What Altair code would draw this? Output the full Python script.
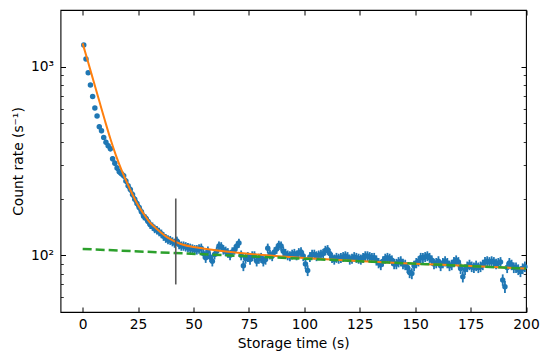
import altair as alt
import pandas as pd

# ---- data ----
rates = [
    1303, 1099, 929, 800, 695, 604, 548, 480, 457, 422,
    398, 381, 367, 325, 308, 290, 277, 271, 264, 248,
    234, 223, 210, 198, 188, 179, 170, 161, 157, 151,
    145, 142, 138, 136, 133, 130, 126, 123, 121, 120,
    118, 116, 119, 114, 112, 112, 111, 110, 109, 108,
    107, 107, 108, 109, 102, 97, 105, 98, 93, 101,
    105, 112, 111, 107, 105, 103, 100, 104, 107, 112,
    116, 100, 88, 96, 98, 95, 99, 99, 93, 96,
    97, 93, 95, 109, 101, 99, 104, 108, 113, 112,
    105, 102, 100, 99, 101, 102, 100, 103, 104, 99,
    90, 83, 98, 101, 101, 99, 100, 101, 102, 106,
    107, 102, 97, 95, 97, 96, 97, 98, 99, 98,
    95, 96, 98, 97, 96, 95, 97, 99, 99, 98,
    97, 97, 94, 91, 89, 93, 96, 97, 96, 94,
    90, 90, 92, 93, 90, 89, 86, 81, 80, 88,
    91, 93, 97, 97, 98, 99, 97, 94, 90, 91,
    93, 88, 91, 93, 91, 88, 89, 92, 94, 92,
    85, 77, 84, 87, 89, 87, 86, 88, 86, 87,
    89, 92, 93, 92, 93, 92, 90, 91, 92, 74,
    68, 86, 91, 89, 86, 86, 84, 82, 85, 87,
]
times = [i + 0.5 for i in range(len(rates))]

fit_t = [0, 2.5, 5, 7.5, 10, 12.5, 15, 17.5, 20, 22.5, 25, 27.5, 30, 32.5,
         35, 37.5, 40, 42.5, 45, 50, 55, 60, 70, 80, 90, 100, 110, 120,
         140, 160, 180, 200]
fit_rate = [1330, 1052, 832, 658, 520, 415, 339, 284, 243, 210, 184, 166,
            151, 141, 133, 126, 121, 117, 114, 110.5, 108.3, 106.4,
            103.2, 100.6, 98.4, 96.6, 95.1, 93.7, 91.3, 89.2, 87.1, 85.1]

bg_t = [0, 200]
bg_rate = [108, 85]

cut_t = [42]
cut_lo = [70]
cut_hi = [200]

x_ticks = [0, 25, 50, 75, 100, 125, 150, 175, 200]
y_major = [100, 1000]
y_minor = [60, 70, 80, 90, 200, 300, 400, 500, 600, 700, 800, 900]

BLUE = "#1f77b4"
ORANGE = "#ff7f0e"
GREEN = "#2ca02c"
FONT = "DejaVu Sans"
FS = 13.8

pts = pd.DataFrame({"t": times, "r": rates})
fit = pd.DataFrame({"t": fit_t, "r": fit_rate})
bg = pd.DataFrame({"t": bg_t, "r": bg_rate})
cut = pd.DataFrame({"t": cut_t, "lo": cut_lo, "hi": cut_hi})

xs = alt.Scale(domain=[-10, 200], nice=False, zero=False)
ys = alt.Scale(type="log", domain=[50, 2000], nice=False)

MAJ = 5
MIN = 2.8

common = dict(domain=False, grid=False, tickColor="black",
              labelFont=FONT, labelFontSize=FS, labelColor="black",
              labelFlush=False, labelOverlap=False,
              titleFont=FONT, titleFontSize=FS, titleColor="black",
              titleFontWeight="normal")

x_bottom = alt.Axis(orient="bottom", values=x_ticks, tickSize=MAJ, offset=-MAJ,
                    tickWidth=1, labelPadding=5, format="d",
                    title="Storage time (s)", titlePadding=5.5, **common)
x_top = alt.Axis(orient="top", values=x_ticks, tickSize=MAJ, offset=-MAJ,
                 tickWidth=1, labels=False, title=None, **common)
y_left = alt.Axis(orient="left", values=y_major, tickSize=MAJ, offset=-MAJ,
                  tickWidth=1, labelPadding=7,
                  labelExpr="datum.value == 100 ? '10²' : '10³'",
                  title="Count rate (s⁻¹)", titlePadding=5, **common)
y_left_minor = alt.Axis(orient="left", values=y_minor, tickSize=MIN, offset=-MIN,
                        tickWidth=0.8, labels=False, title=None, **common)
y_right = alt.Axis(orient="right", values=y_major, tickSize=MAJ, offset=-MAJ,
                   tickWidth=1, labels=False, title=None, **common)
y_right_minor = alt.Axis(orient="right", values=y_minor, tickSize=MIN, offset=-MIN,
                         tickWidth=0.8, labels=False, title=None, **common)

errbars = alt.Chart(pts).transform_calculate(
    lo="datum.r - 0.6*sqrt(datum.r)", hi="datum.r + 0.6*sqrt(datum.r)"
).mark_rule(color=BLUE, strokeWidth=1.8).encode(
    x=alt.X("t:Q", scale=xs, axis=x_bottom),
    y=alt.Y("lo:Q", scale=ys, axis=y_left),
    y2="hi:Q",
)

points = alt.Chart(pts).mark_circle(color=BLUE, size=30, opacity=1).encode(
    x=alt.X("t:Q", scale=xs, axis=x_top),
    y=alt.Y("r:Q", scale=ys, axis=y_left_minor),
)

fit_line = alt.Chart(fit).mark_line(color=ORANGE, strokeWidth=2,
                                    interpolate="monotone").encode(
    x=alt.X("t:Q", scale=xs, axis=None),
    y=alt.Y("r:Q", scale=ys, axis=y_right),
)

bg_line = alt.Chart(bg).mark_line(color=GREEN, strokeWidth=2.5,
                                  strokeDash=[9, 4]).encode(
    x=alt.X("t:Q", scale=xs, axis=None),
    y=alt.Y("r:Q", scale=ys, axis=y_right_minor),
)

cut_line = alt.Chart(cut).mark_rule(color="#5a5a5a", strokeWidth=1.6).encode(
    x=alt.X("t:Q", scale=xs, axis=None),
    y=alt.Y("lo:Q", scale=ys, axis=None),
    y2="hi:Q",
)

chart = alt.layer(errbars, points, fit_line, bg_line, cut_line).resolve_axis(
    x="independent", y="independent"
).properties(
    width=465.5, height=302,
    autosize=alt.AutoSizeParams(type="none"),
    padding={"left": 52.5, "top": 2, "right": 15, "bottom": 40},
).configure_view(stroke="black", strokeWidth=1.1)

chart.save("out.html", embed_options={"renderer": "svg", "actions": False})
